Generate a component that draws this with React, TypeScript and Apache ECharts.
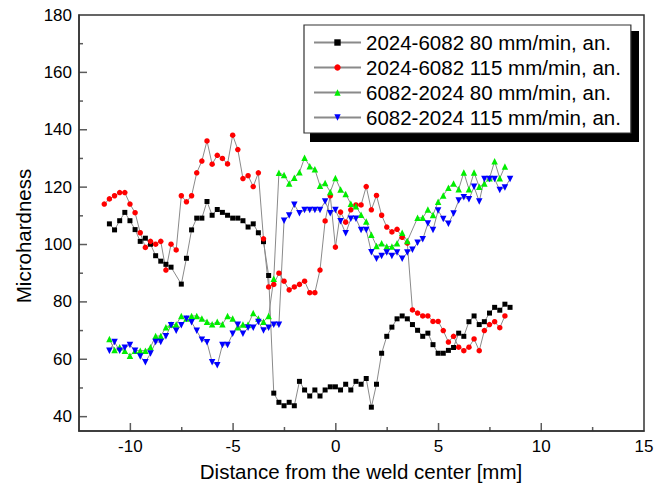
import { useEffect, useRef } from "react";
import * as echarts from "echarts";

const seriesNames = [
  "2024-6082 80 mm/min, an.",
  "2024-6082 115 mm/min, an.",
  "6082-2024 80 mm/min, an.",
  "6082-2024 115 mm/min, an.",
];

const black: number[][] = [
  [-11.02, 107.2], [-10.77, 105.1], [-10.52, 108.3], [-10.27, 111.2], [-10.02, 108.3], [-9.77, 105.2],
  [-9.52, 101.1], [-9.27, 102.2], [-9.02, 100.1], [-8.77, 96.1], [-8.52, 94.2], [-8.27, 93.1], [-8.02, 92.1],
  [-7.52, 86.2], [-7.27, 95.2], [-7.02, 105.1], [-6.77, 109.2], [-6.52, 109.2], [-6.27, 115.0], [-6.02, 110.2],
  [-5.77, 112.2], [-5.52, 111.2], [-5.27, 110.2], [-5.02, 109.2], [-4.77, 109.2], [-4.52, 108.3], [-4.27, 106.1],
  [-4.02, 107.2], [-3.77, 104.1], [-3.52, 101.0], [-3.27, 89.2], [-3.02, 48.2], [-2.77, 45.0], [-2.52, 43.8],
  [-2.27, 45.0], [-2.02, 43.8], [-1.77, 52.3], [-1.52, 49.3], [-1.27, 47.2], [-1.02, 49.3], [-0.77, 47.2],
  [-0.52, 49.3], [-0.27, 50.4], [-0.02, 50.4], [0.23, 49.3], [0.48, 51.3], [0.73, 49.3], [0.98, 52.3],
  [1.23, 51.3], [1.48, 53.3], [1.73, 43.3], [1.98, 51.3], [2.23, 62.1], [2.48, 68.0], [2.73, 71.2], [2.98, 74.1],
  [3.23, 75.1], [3.48, 74.1], [3.73, 72.1], [3.98, 70.1], [4.23, 68.0], [4.48, 69.1], [4.73, 65.1], [4.98, 62.1],
  [5.23, 62.1], [5.48, 63.1], [5.73, 64.1], [5.98, 69.1], [6.23, 68.0], [6.48, 73.1], [6.73, 75.1], [6.98, 72.1],
  [7.23, 73.1], [7.48, 76.1], [7.73, 78.1], [7.98, 77.1], [8.23, 79.2], [8.48, 78.1],
];

const red: number[][] = [
  [-11.27, 114.1], [-11.02, 115.9], [-10.77, 117.0], [-10.52, 118.1], [-10.27, 118.1], [-10.02, 114.1],
  [-9.77, 111.1], [-9.52, 104.1], [-9.27, 99.0], [-9.02, 101.1], [-8.77, 100.1], [-8.52, 101.1], [-8.27, 91.1],
  [-8.02, 100.1], [-7.77, 98.1], [-7.52, 117.0], [-7.27, 114.9], [-7.02, 117.0], [-6.77, 125.0], [-6.52, 129.1],
  [-6.27, 136.1], [-6.02, 128.0], [-5.77, 131.1], [-5.52, 130.0], [-5.27, 128.1], [-5.02, 138.1], [-4.77, 133.1],
  [-4.52, 123.0], [-4.27, 124.0], [-4.02, 120.2], [-3.77, 125.0], [-3.52, 102.0], [-3.27, 85.2], [-3.02, 86.1],
  [-2.77, 90.0], [-2.52, 87.2], [-2.27, 84.2], [-2.02, 85.2], [-1.77, 86.1], [-1.52, 87.2], [-1.27, 83.2],
  [-1.02, 83.2], [-0.77, 91.1], [-0.52, 108.2], [-0.27, 117.0], [-0.02, 99.1], [0.23, 111.3], [0.48, 107.8],
  [0.73, 112.1], [0.98, 113.8], [1.23, 113.8], [1.48, 120.2], [1.73, 112.1], [1.98, 117.1], [2.23, 110.2],
  [2.48, 106.1], [2.73, 104.4], [2.98, 105.3], [3.23, 102.5], [3.48, 100.5], [3.73, 77.2], [3.98, 76.1],
  [4.23, 75.1], [4.48, 75.1], [4.73, 73.2], [4.98, 73.2], [5.23, 70.0], [5.48, 66.0], [5.73, 68.0], [5.98, 64.2],
  [6.23, 63.0], [6.48, 64.2], [6.73, 67.1], [6.98, 63.0], [7.23, 70.0], [7.48, 72.1], [7.73, 73.1], [7.98, 71.0],
  [8.23, 75.1],
];

const green: number[][] = [
  [-11.02, 67.1], [-10.77, 63.2], [-10.52, 64.2], [-10.27, 63.0], [-10.02, 61.2], [-9.77, 63.0], [-9.52, 63.0],
  [-9.27, 63.0], [-9.02, 64.2], [-8.77, 68.1], [-8.52, 68.1], [-8.27, 71.2], [-8.02, 72.1], [-7.77, 72.1],
  [-7.52, 75.1], [-7.27, 74.2], [-7.02, 75.1], [-6.77, 75.1], [-6.52, 74.2], [-6.27, 73.1], [-6.02, 72.2],
  [-5.77, 73.1], [-5.52, 72.2], [-5.27, 75.1], [-5.02, 74.2], [-4.77, 71.2], [-4.52, 72.1], [-4.27, 72.1],
  [-4.02, 76.1], [-3.77, 74.2], [-3.52, 73.1], [-3.27, 75.1], [-3.02, 88.1], [-2.77, 125.0], [-2.52, 124.2],
  [-2.27, 121.3], [-2.02, 123.3], [-1.77, 125.2], [-1.52, 130.2], [-1.27, 127.3], [-1.02, 126.2], [-0.77, 120.5],
  [-0.52, 121.4], [-0.27, 118.3], [-0.02, 123.2], [0.23, 119.2], [0.48, 117.6], [0.73, 114.2], [0.98, 113.3],
  [1.23, 110.4], [1.48, 108.0], [1.73, 103.4], [1.98, 99.5], [2.23, 100.4], [2.48, 99.3], [2.73, 99.3],
  [2.98, 100.4], [3.23, 104.1], [3.48, 101.2], [3.98, 109.3], [4.23, 109.3], [4.48, 112.2], [4.73, 110.3],
  [4.98, 114.9], [5.23, 117.1], [5.48, 119.8], [5.73, 121.3], [5.98, 119.3], [6.23, 125.1], [6.48, 119.3],
  [6.73, 125.1], [6.98, 120.1], [7.23, 121.3], [7.48, 123.1], [7.73, 129.0], [7.98, 123.1], [8.23, 127.2],
];

const blue: number[][] = [
  [-11.02, 63.0], [-10.77, 66.0], [-10.52, 63.0], [-10.27, 64.0], [-10.02, 65.0], [-9.77, 63.0], [-9.52, 61.0],
  [-9.27, 59.0], [-9.02, 62.0], [-8.77, 66.0], [-8.52, 66.0], [-8.27, 68.0], [-8.02, 71.9], [-7.77, 69.9],
  [-7.52, 71.9], [-7.27, 74.1], [-7.02, 72.9], [-6.77, 69.9], [-6.52, 66.8], [-6.27, 65.9], [-6.02, 59.0],
  [-5.77, 57.9], [-5.52, 65.0], [-5.27, 65.0], [-5.02, 68.9], [-4.77, 72.0], [-4.52, 68.9], [-4.27, 71.0],
  [-4.02, 71.0], [-3.77, 73.0], [-3.52, 70.0], [-3.27, 71.0], [-3.02, 72.0], [-2.77, 72.0], [-2.52, 108.3],
  [-2.27, 110.1], [-2.02, 113.9], [-1.77, 110.9], [-1.52, 112.0], [-1.27, 112.0], [-1.02, 112.0], [-0.77, 112.0],
  [-0.52, 115.0], [-0.27, 110.9], [-0.02, 112.0], [0.23, 108.1], [0.48, 103.9], [0.73, 109.0], [0.98, 109.0],
  [1.23, 105.1], [1.48, 105.1], [1.73, 97.3], [1.98, 95.0], [2.23, 96.0], [2.48, 97.2], [2.73, 96.0],
  [2.98, 97.2], [3.23, 95.0], [3.48, 97.2], [3.73, 98.2], [3.98, 100.6], [4.23, 101.8], [4.48, 107.3],
  [4.73, 105.1], [4.98, 111.9], [5.23, 108.9], [5.48, 107.2], [5.73, 110.8], [5.98, 115.3], [6.23, 116.5],
  [6.48, 115.8], [6.73, 120.1], [6.98, 115.0], [7.23, 122.8], [7.48, 122.8], [7.73, 122.8], [7.98, 119.0],
  [8.23, 119.9], [8.48, 122.8],
];

const xMin = -12.5;
const xMax = 15;
const yMin = 35;
const yMax = 180;
const xMajorTicks = [-10, -5, 0, 5, 10];
const xMinorTicks = [-7.5, -2.5, 2.5, 7.5, 12.5];
const yMajorTicks = [40, 60, 80, 100, 120, 140, 160];
const yMinorTicks = [50, 70, 90, 110, 130, 150, 170];

const xTitle = "Distance from the weld center [mm]";
const yTitle = "Microhardness";

const FONT = "'Liberation Sans', Arial, sans-serif";
const AXIS = "#333";
const LINE = "#8a8a8a";

export default function App() {
  const ref = useRef<HTMLDivElement>(null);
  useEffect(() => {
    if (!ref.current) return;
    const chart = echarts.init(ref.current, undefined, { renderer: "svg" });

    const mk = (name: string, data: number[][], color: string, symbol: string, size: number, rotate = 0) => ({
      name,
      type: "line",
      data,
      symbol,
      symbolSize: size,
      symbolRotate: rotate,
      showAllSymbol: true,
      lineStyle: { color: LINE, width: 1 },
      itemStyle: { color },
      emphasis: { disabled: true },
      z: 3,
    });

    const tickSeries = (data: number[][], size: number[], offset: number[]) => ({
      type: "scatter",
      data,
      symbol: "rect",
      symbolSize: size,
      symbolOffset: offset,
      itemStyle: { color: AXIS },
      silent: true,
      clip: false,
      z: 5,
    });

    chart.setOption({
      animation: false,
      backgroundColor: "#fff",
      textStyle: { fontFamily: FONT },
      grid: {
        left: 79,
        top: 15,
        right: 26,
        bottom: 57,
        show: true,
        borderColor: AXIS,
        borderWidth: 1.5,
        containLabel: false,
      },
      xAxis: {
        type: "value",
        min: xMin,
        max: xMax,
        interval: 2.5,
        axisLine: { onZero: false, lineStyle: { color: AXIS, width: 1.5 } },
        axisTick: { show: false },
        splitLine: { show: false },
        axisLabel: {
          color: "#000",
          fontSize: 17,
          fontFamily: FONT,
          margin: 7,
          showMinLabel: true,
          showMaxLabel: true,
          formatter: (v: number) => (Math.abs(v % 5) < 1e-9 ? String(v) : ""),
        },
      },
      yAxis: {
        type: "value",
        min: yMin,
        max: yMax,
        interval: 5,
        axisLine: { onZero: false, lineStyle: { color: AXIS, width: 1.5 } },
        axisTick: { show: false },
        splitLine: { show: false },
        axisLabel: {
          color: "#000",
          fontSize: 17,
          fontFamily: FONT,
          margin: 7,
          formatter: (v: number) => (Math.abs(v % 20) < 1e-9 ? String(v) : ""),
        },
      },
      legend: {
        data: seriesNames,
        orient: "vertical",
        left: 304,
        top: 25,
        padding: [7, 10, 5, 9],
        itemGap: 4,
        itemWidth: 47,
        itemHeight: 8,
        backgroundColor: "#fff",
        borderColor: AXIS,
        borderWidth: 1.2,
        selectedMode: false,
        textStyle: { fontSize: 20.5, color: "#000", fontFamily: FONT },
        z: 6,
      },
      graphic: [
        {
          type: "rect",
          shape: { x: 310, y: 31, width: 329, height: 111 },
          style: { fill: "#000" },
          z: 5,
          silent: true,
        },
        {
          type: "text",
          x: 23,
          y: 236,
          rotation: Math.PI / 2,
          style: {
            text: yTitle,
            fontSize: 20.5,
            fontFamily: FONT,
            fill: "#000",
            align: "center",
            verticalAlign: "middle",
          },
        },
        {
          type: "text",
          x: 361,
          y: 471,
          style: {
            text: xTitle,
            fontSize: 20.5,
            fontFamily: FONT,
            fill: "#000",
            align: "center",
            verticalAlign: "middle",
          },
        },
      ],
      series: [
        mk(seriesNames[0], black, "#000000", "rect", 5),
        mk(seriesNames[1], red, "#ff0000", "circle", 5.5),
        mk(seriesNames[2], green, "#00ee00", "triangle", 6.5),
        mk(seriesNames[3], blue, "#0000ff", "triangle", 6.5, 180),
        tickSeries(xMajorTicks.map((x) => [x, yMin]), [1.5, 8], [0, -4]),
        tickSeries(xMinorTicks.map((x) => [x, yMin]), [1.5, 4], [0, -2]),
        tickSeries(yMajorTicks.map((y) => [xMin, y]), [8, 1.5], [4, 0]),
        tickSeries(yMinorTicks.map((y) => [xMin, y]), [4, 1.5], [2, 0]),
      ],
    });
    return () => chart.dispose();
  }, []);

  return (
    <div
      ref={ref}
      style={{ position: "fixed", left: 0, top: 0, width: 670, height: 488, background: "#fff" }}
    />
  );
}
